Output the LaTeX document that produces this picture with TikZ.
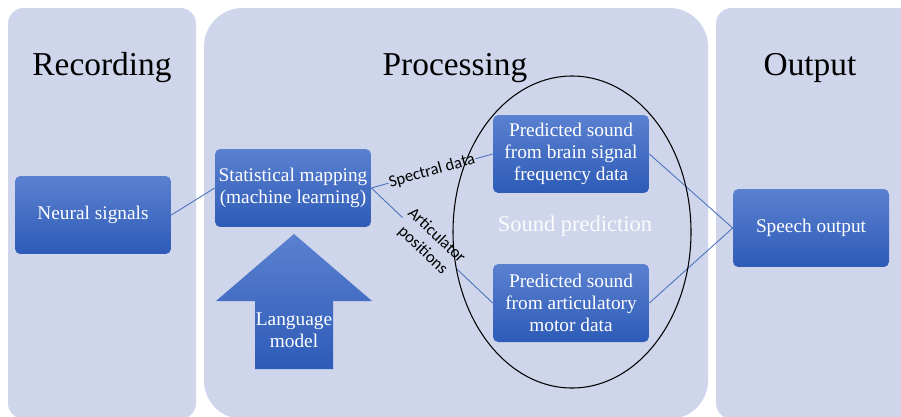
\documentclass[tikz,border=0pt]{standalone}
\usepackage{fontspec}
\setmainfont{Liberation Serif}
\newfontfamily\labelfont{Carlito}
\usetikzlibrary{positioning}
\definecolor{panelbg}{HTML}{CFD5EA}
\definecolor{boxtop}{HTML}{5B81D0}
\definecolor{boxbot}{HTML}{2D5BB7}
\definecolor{linkcol}{HTML}{4A72C0}

\begin{document}
\begin{tikzpicture}[x=0.02cm, y=-0.02cm,
  panel/.style={fill=panelbg, draw=none},
  title/.style={font=\fontsize{19}{21}\selectfont},
  bluebox/.style={rounded corners=3pt, top color=boxtop, bottom color=boxbot, draw=none,
    text=white, align=center, minimum width=3.12cm, minimum height=1.56cm,
    inner sep=1pt, font=\fontsize{11}{12.5}\selectfont},
  link/.style={draw=linkcol, line width=0.5pt},
  linklabel/.style={sloped, fill=panelbg, inner sep=0.5pt, align=center,
    font=\labelfont\fontsize{9.5}{11.5}\selectfont}]
\clip (0,0) rectangle (901,416);
\fill[white] (0,0) rectangle (901,416);

% the three stages
\fill[panel, rounded corners=9pt] (8,8) rectangle (196,419);
\fill[panel, rounded corners=22pt] (204,8) rectangle (708,419);
\fill[panel, rounded corners=9pt] (716,8) rectangle (930,419);
\node[title] (rec) at (102,68) {Recording};
\node[title] (proc) at (455,68) {Processing};
\node[title] (out) at (810,68) {Output};

% boxes
\node[bluebox] (neural) at (93,215) {Neural signals};
\node[bluebox] (stat) at (293,188) {Statistical mapping\\(machine learning)};
\node[bluebox] (brain) at (571,154) {Predicted sound\\from brain signal\\frequency data};
\node[bluebox] (motor) at (571,303) {Predicted sound\\from articulatory\\motor data};
\node[bluebox] (speech) at (811,228) {Speech output};

% language model arrow
\shade[top color=boxtop, bottom color=boxbot]
  (255,369) -- (255,301) -- (216,301) -- (294,234) -- (372,301) -- (333,301) -- (333,369) -- cycle;
\node[text=white, align=center, font=\fontsize{11}{12.5}\selectfont] (lang) at (294,330) {Language\\model};

\node[text=white!92!panelbg, font=\fontsize{12.8}{14}\selectfont] (pred) at (575,226) {Sound prediction};

% connectors
\draw[link] (neural.east) -- (stat.west);
\draw[link] (stat.east) -- node[linklabel] {Spectral data} (brain.west);
\draw[link] (stat.east) -- node[linklabel, pos=0.48] {Articulator\\positions} (motor.west);
\draw[link] (brain.east) -- (speech.west);
\draw[link] (motor.east) -- (speech.west);

\draw[black, line width=0.6pt] (572,232) ellipse (119 and 156);
\end{tikzpicture}
\end{document}
